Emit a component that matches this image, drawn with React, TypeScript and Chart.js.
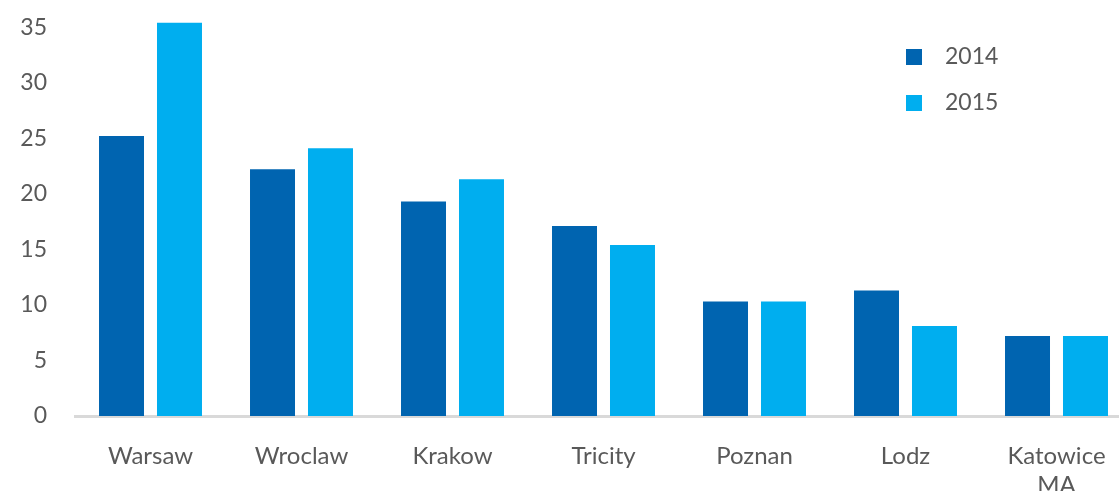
import React, { useEffect, useRef } from "react";
import { Chart, registerables } from "chart.js";

Chart.register(...registerables);

const categories: (string | string[])[] = ["Warsaw", "Wroclaw", "Krakow", "Tricity", "Poznan", "Lodz", ["Katowice", "MA"]];
const seriesNames = ["2014", "2015"];
const values2014 = [25.2, 22.2, 19.3, 17.1, 10.3, 11.3, 7.2];
const values2015 = [35.4, 24.1, 21.3, 15.4, 10.3, 8.1, 7.2];
const colors = ["#0064B0", "#00AEEF"];
const yTicks = [0, 5, 10, 15, 20, 25, 30, 35];

const FONT = "Lato, 'Noto Sans', sans-serif";
const TEXT = "#595959";

const legendPlugin = {
  id: "customLegend",
  afterDraw(chart: any) {
    const ctx = chart.ctx;
    ctx.save();
    chart.data.datasets.forEach((ds: any, i: number) => {
      const cy = 57 + i * 46;
      ctx.fillStyle = ds.backgroundColor;
      ctx.fillRect(906, cy - 8, 16, 16);
      ctx.fillStyle = TEXT;
      ctx.font = `23px ${FONT}`;
      ctx.textBaseline = "middle";
      ctx.textAlign = "left";
      ctx.fillText(ds.label, 945, cy);
    });
    ctx.restore();
  },
};

export default function App() {
  const ref = useRef<HTMLCanvasElement>(null);
  useEffect(() => {
    if (!ref.current) return;
    const chart = new Chart(ref.current, {
      type: "bar",
      data: {
        labels: categories,
        datasets: [
          { label: seriesNames[0], data: values2014, backgroundColor: colors[0] },
          { label: seriesNames[1], data: values2015, backgroundColor: colors[1] },
        ],
      },
      options: {
        animation: false,
        responsive: false,
        layout: { padding: { top: 16, right: 0, left: 0, bottom: 0 } },
        datasets: { bar: { categoryPercentage: 0.768, barPercentage: 0.776 } },
        plugins: { legend: { display: false }, tooltip: { enabled: false } },
        scales: {
          x: {
            grid: { display: false },
            border: { display: true, color: "#D9D9D9", width: 3 },
            ticks: { color: TEXT, font: { family: FONT, size: 24, lineHeight: 1.2 }, padding: 18, maxRotation: 0, autoSkip: false },
            afterFit: (s: any) => { s.height = 75; s.paddingLeft = 0; s.paddingRight = 0; },
          },
          y: {
            min: 0,
            max: 36,
            grid: { display: false, drawTicks: false },
            border: { display: false },
            ticks: { color: TEXT, font: { family: FONT, size: 23 }, padding: 28 },
            afterBuildTicks: (s: any) => {
              s.ticks = yTicks.map((v) => ({ value: v }));
            },
            afterFit: (s: any) => { s.width = 75; s.paddingTop = 0; s.paddingBottom = 0; },
          },
        },
      },
      plugins: [legendPlugin],
    });
    return () => chart.destroy();
  }, []);
  return (
    <div style={{ position: "fixed", left: 0, top: 0, width: 1119, height: 491, overflow: "hidden", background: "#fff" }}>
      <canvas ref={ref} width={1132} height={491} style={{ display: "block" }} />
    </div>
  );
}
